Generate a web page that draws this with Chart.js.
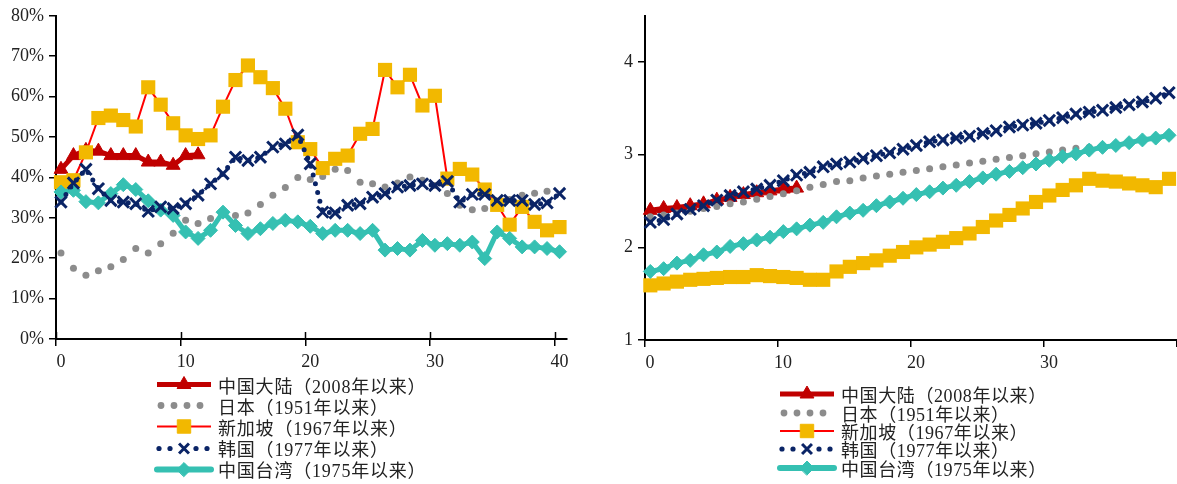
<!DOCTYPE html>
<html>
<head>
<meta charset="utf-8">
<script src="https://cdn.jsdelivr.net/npm/chart.js@4.4.0/dist/chart.umd.min.js"></script>
<style>
  body { margin: 0; background: #fff; width: 1177px; height: 484px; position: relative; overflow: hidden;
         font-family: "Liberation Serif", "Noto Sans CJK SC", serif; color: #222; }
  .box { position: absolute; top: 0; }
  #leftBox { left: 0; }
  #rightBox { left: 590px; }
  .legend { position: absolute; font-size: 18px; letter-spacing: 0.8px; }
  .legend .row { display: flex; align-items: center; white-space: nowrap; }
  .legend canvas { margin-right: 4px; }
  #leftLegend { left: 154px; top: 374px; }
  #leftLegend .row { height: 21.2px; }
  #rightLegend { left: 777px; top: 385px; letter-spacing: 0.6px; }
  #rightLegend .row { height: 18.4px; }
</style>
</head>
<body>
<div class="box" id="leftBox"><canvas id="leftChart" width="590" height="375"></canvas></div>
<div class="box" id="rightBox"><canvas id="rightChart" width="598" height="375"></canvas></div>
<div class="legend" id="leftLegend"></div>
<div class="legend" id="rightLegend"></div>
<script>
const seriesNames = ["中国大陆（2008年以来）", "日本（1951年以来）", "新加坡（1967年以来）", "韩国（1977年以来）", "中国台湾（1975年以来）"];

// years since start of the period; the first point sits a little right of 0
const pointOffset = 0.4;

// left panel, %
const leftChina = [42, 45.4, 46.7, 46.5, 45.4, 45.4, 45.4, 43.8, 43.8, 43, 45.4, 45.6];
const leftJapan = [21.3, 17.5, 15.8, 16.9, 17.9, 19.7, 22.4, 21.3, 23.6, 26.2, 29.4, 28.6, 29.8, 31, 30.6, 31.2, 33.3, 35.6, 37.5, 40,
  39.5, 40.2, 42, 41.7, 38.8, 38.4, 37.6, 38.6, 40.1, 39.3, 38, 36, 33.1, 32, 32.3, 33.1, 34.5, 35.6, 36.1, 36.6];
const leftSingapore = [38.8, 39.3, 46.2, 54.7, 55.3, 54.2, 52.6, 62.3, 58, 53.4, 50.4, 49.5, 50.4, 57.5, 64.1, 67.7, 64.8, 62.1, 57, 48.7,
  47, 42.3, 44.6, 45.4, 50.8, 52, 66.6, 62.3, 65.4, 57.8, 60.2, 39.7, 42.1, 40.7, 37, 33.2, 28.3, 32.7, 29, 26.9, 27.7];
const leftKorea = [33.9, 38.6, 42, 37.2, 34.3, 33.9, 33.5, 31.6, 32.7, 32.3, 33.5, 35.6, 38.4, 40.9, 45, 44.2, 45, 47.5, 48.3, 50.5,
  43.4, 31.4, 31.2, 33.1, 33.5, 35.1, 36, 37.6, 38, 38.4, 38, 39, 33.9, 35.8, 35.8, 34.3, 34.3, 34.3, 33.3, 33.7, 36];
const leftTaiwan = [36.4, 36.8, 34, 33.7, 36, 38.2, 37, 34.2, 31.9, 30.6, 26.5, 24.9, 26.9, 31.4, 28.1, 26.1, 27.3, 28.6, 29.4, 29,
  27.9, 26.1, 26.9, 26.9, 26.1, 26.9, 22, 22.4, 22, 24.4, 23.2, 23.6, 23.2, 24, 19.9, 26.5, 24.9, 22.8, 22.8, 22.4, 21.6];

// right panel
const rightChina = [2.40, 2.42, 2.43, 2.45, 2.47, 2.51, 2.54, 2.57, 2.59, 2.61, 2.63, 2.64];
const rightJapan = [2.33, 2.35, 2.37, 2.39, 2.42, 2.44, 2.47, 2.49, 2.52, 2.55, 2.58, 2.61, 2.65, 2.68, 2.71, 2.72, 2.75, 2.77, 2.79, 2.81,
  2.83, 2.85, 2.87, 2.89, 2.91, 2.93, 2.95, 2.97, 2.99, 3.01, 3.03, 3.05, 3.07, 3.08];
const rightSingapore = [1.59, 1.61, 1.63, 1.65, 1.66, 1.67, 1.68, 1.68, 1.70, 1.69, 1.68, 1.67, 1.65, 1.65, 1.74, 1.79, 1.83, 1.86, 1.91, 1.95,
  2.00, 2.03, 2.06, 2.10, 2.15, 2.22, 2.29, 2.35, 2.42, 2.49, 2.56, 2.62, 2.67, 2.74, 2.72, 2.71, 2.69, 2.67, 2.65, 2.74];
const rightKorea = [2.27, 2.30, 2.36, 2.41, 2.45, 2.51, 2.56, 2.60, 2.63, 2.67, 2.72, 2.78, 2.81, 2.87, 2.90, 2.92, 2.96, 2.99, 3.02, 3.06,
  3.10, 3.14, 3.16, 3.18, 3.20, 3.23, 3.26, 3.30, 3.32, 3.34, 3.37, 3.40, 3.44, 3.46, 3.48, 3.51, 3.54, 3.57, 3.61, 3.67];
const rightTaiwan = [1.74, 1.77, 1.83, 1.86, 1.92, 1.95, 2.01, 2.04, 2.08, 2.11, 2.17, 2.20, 2.24, 2.27, 2.33, 2.37, 2.40, 2.45, 2.49, 2.53,
  2.57, 2.60, 2.64, 2.67, 2.71, 2.75, 2.79, 2.82, 2.86, 2.90, 2.94, 2.98, 3.01, 3.05, 3.08, 3.10, 3.13, 3.16, 3.18, 3.21];

const leftXTicks = [0, 10, 20, 30, 40];
const rightXTicks = [0, 10, 20, 30, 40];
const rightXLabels = ["0", "10", "20", "30", ""];   // last tick has no label in the original
const leftYTicks = [0, 10, 20, 30, 40, 50, 60, 70, 80];
const rightYTicks = [1, 2, 3, 4];

const RED = "#C00000", GRAY = "#8C8C8C", YELLOW = "#F2B800", LINE_RED = "#FF0000", NAVY = "#0A2466", TEAL = "#35C0B2";
const tickFont = { family: "Liberation Serif", size: 18 };

function toPoints(values) {
  return values.map((v, i) => ({ x: i + pointOffset, y: v }));
}

function makeDatasets(china, japan, singapore, korea, taiwan) {
  return [
    { label: seriesNames[3], data: toPoints(korea), order: 0, borderColor: NAVY, borderWidth: 5, borderDash: [0, 9],
      borderCapStyle: "round", pointStyle: "crossRot", pointRadius: 8, pointBorderColor: NAVY, pointBorderWidth: 3,
      pointBackgroundColor: NAVY },
    { label: seriesNames[4], data: toPoints(taiwan), order: 1, borderColor: TEAL, borderWidth: 5,
      pointStyle: "rectRot", pointRadius: 7, pointBackgroundColor: TEAL, pointBorderColor: TEAL, pointBorderWidth: 1 },
    { label: seriesNames[2], data: toPoints(singapore), order: 2, borderColor: LINE_RED, borderWidth: 2,
      pointStyle: "rect", pointRadius: 10, pointBackgroundColor: YELLOW, pointBorderColor: YELLOW, pointBorderWidth: 0 },
    { label: seriesNames[1], data: toPoints(japan), order: 3, showLine: false, pointStyle: "circle", pointRadius: 3.5,
      pointBackgroundColor: GRAY, pointBorderColor: GRAY, pointBorderWidth: 0 },
    { label: seriesNames[0], data: toPoints(china), order: 4, borderColor: RED, borderWidth: 5,
      pointStyle: "triangle", pointRadius: 8, pointBackgroundColor: RED, pointBorderColor: RED, pointBorderWidth: 1 },
  ].map(d => Object.assign({ clip: false, tension: 0, fill: false }, d));
}

const innerTicks = {
  id: "innerTicks",
  beforeDatasetsDraw(chart) {
    const { ctx, chartArea } = chart;
    const x = chart.scales.x;
    ctx.save();
    ctx.strokeStyle = "#000";
    ctx.lineWidth = 1.5;
    x.ticks.forEach(t => {
      const px = Math.round(x.getPixelForValue(t.value)) + 0.5;
      ctx.beginPath();
      ctx.moveTo(px, chartArea.bottom);
      ctx.lineTo(px, chartArea.bottom - 7);
      ctx.stroke();
    });
    ctx.restore();
  }
};

function axisGrid() {
  return { display: true, drawOnChartArea: false, drawTicks: true, tickLength: 7, color: "#000", lineWidth: 1.5 };
}

function buildChart(canvas, datasets, opts) {
  return new Chart(canvas, {
    type: "line",
    data: { datasets },
    options: {
      responsive: false,
      animation: false,
      events: [],
      layout: { padding: opts.padding },
      plugins: { legend: { display: false }, tooltip: { enabled: false } },
      scales: {
        x: {
          type: "linear", min: 0, max: opts.xMax,
          afterBuildTicks: s => { s.ticks = opts.xTicks.map(v => ({ value: v })); },
          afterFit: s => { s.height = opts.xHeight; },
          border: { display: true, color: "#000", width: 2 },
          grid: axisGrid(),
          ticks: { font: tickFont, color: "#222", padding: 5, labelOffset: 5, maxRotation: 0, autoSkip: false,
                   callback: opts.xLabel }
        },
        y: {
          min: opts.yMin, max: opts.yMax,
          afterBuildTicks: s => { s.ticks = opts.yTicks.map(v => ({ value: v })); },
          afterFit: s => { s.width = opts.yWidth; },
          border: { display: true, color: "#000", width: 2 },
          grid: axisGrid(),
          ticks: { font: tickFont, color: "#222", padding: 5, callback: opts.yLabel }
        }
      }
    },
    plugins: opts.plugins || []
  });
}

buildChart(document.getElementById("leftChart"),
  makeDatasets(leftChina, leftJapan, leftSingapore, leftKorea, leftTaiwan),
  { padding: { top: 15, right: 23, left: 0, bottom: 0 }, xMax: 41, xTicks: leftXTicks, xHeight: 36,
    xLabel: v => String(v), yMin: 0, yMax: 80, yTicks: leftYTicks, yWidth: 56, yLabel: v => v + "%",
    plugins: [innerTicks] });

buildChart(document.getElementById("rightChart"),
  makeDatasets(rightChina, rightJapan, rightSingapore, rightKorea, rightTaiwan),
  { padding: { top: 15, right: 1, left: 0, bottom: 0 }, xMax: 40, xTicks: rightXTicks, xHeight: 35,
    xLabel: (v, i) => rightXLabels[i], yMin: 1, yMax: 4.5, yTicks: rightYTicks, yWidth: 55, yLabel: v => String(v) });

// legends
const legendStyles = [
  { line: RED, lw: 5, marker: { style: "triangle", r: 8, color: RED } },
  { dots: [5, 18, 31, 44], dotColor: GRAY, dotR: 3.4 },
  { line: LINE_RED, lw: 2, marker: { style: "rect", r: 9.5, color: YELLOW } },
  { dots: [3, 14, 40, 51], dotColor: NAVY, dotR: 2.6, marker: { style: "crossRot", r: 7, color: NAVY, bw: 3 } },
  { line: TEAL, lw: 6, cap: "round", marker: { style: "rectRot", r: 7, color: TEAL } },
];

function drawSample(cv, s) {
  const c = cv.getContext("2d");
  const w = cv.width, cy = cv.height / 2;
  if (s.line) {
    c.strokeStyle = s.line; c.lineWidth = s.lw; c.lineCap = s.cap || "butt";
    c.beginPath(); c.moveTo(3, cy); c.lineTo(w - 3, cy); c.stroke();
  }
  if (s.dots) {
    c.fillStyle = s.dotColor;
    s.dots.forEach(x => { c.beginPath(); c.arc(x + 2, cy, s.dotR, 0, Math.PI * 2); c.fill(); });
  }
  if (s.marker) {
    c.fillStyle = s.marker.color; c.strokeStyle = s.marker.color; c.lineWidth = s.marker.bw || 1;
    Chart.helpers.drawPoint(c, { pointStyle: s.marker.style, radius: s.marker.r, rotation: 0, borderWidth: s.marker.bw || 1 }, w / 2, cy);
  }
}

function buildLegend(el, sampleW, rowH) {
  seriesNames.forEach((name, i) => {
    const row = document.createElement("div");
    row.className = "row";
    const cv = document.createElement("canvas");
    cv.width = sampleW; cv.height = Math.round(rowH);
    drawSample(cv, legendStyles[i]);
    const span = document.createElement("span");
    span.textContent = name;
    row.appendChild(cv); row.appendChild(span);
    el.appendChild(row);
  });
}

buildLegend(document.getElementById("leftLegend"), 60, 21);
buildLegend(document.getElementById("rightLegend"), 60, 18);
</script>
</body>
</html>
